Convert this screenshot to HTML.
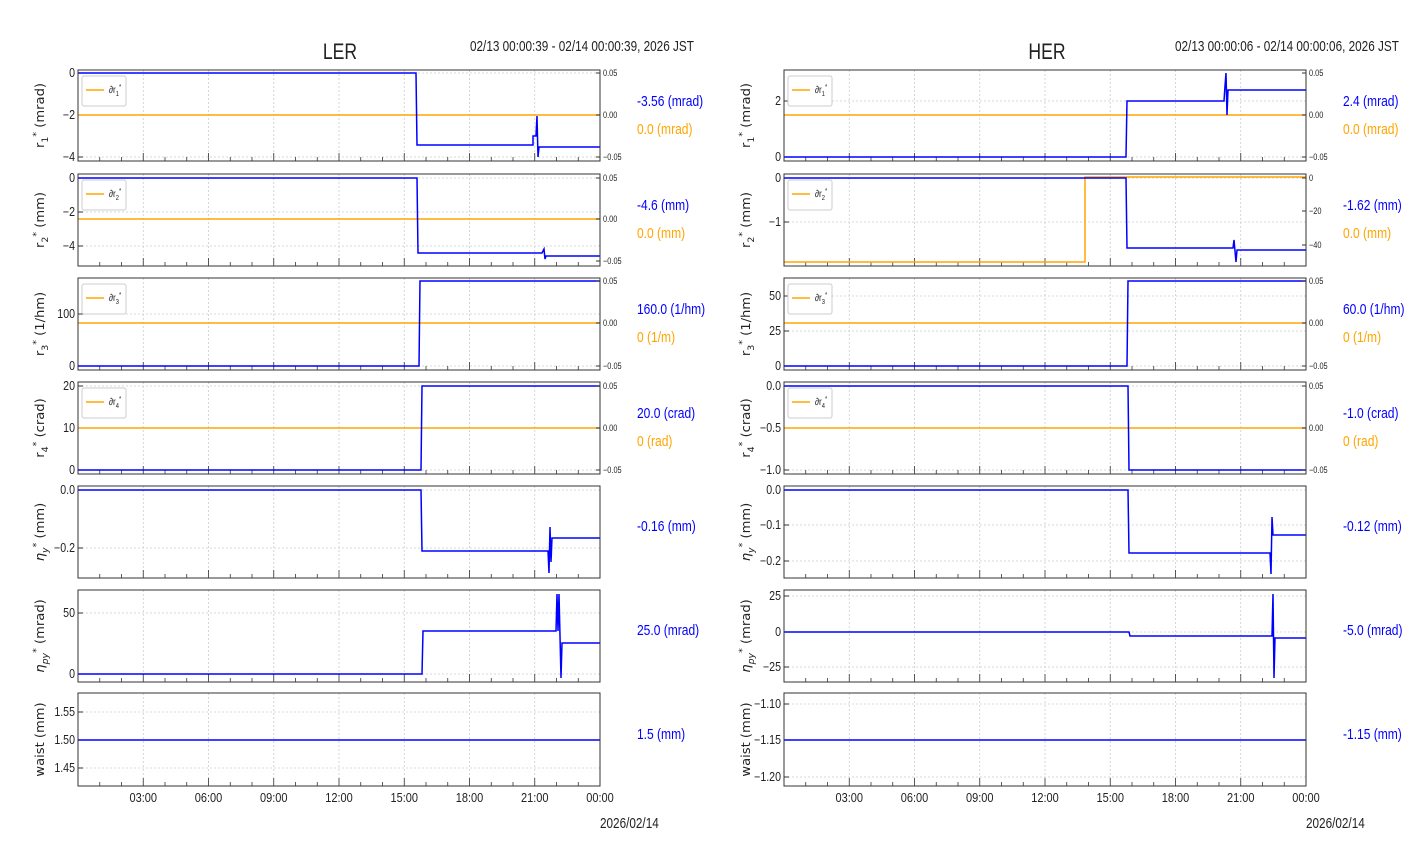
<!DOCTYPE html>
<html><head><meta charset="utf-8"><style>
html,body{margin:0;padding:0;background:#fff;}
svg{display:block;font-family:"Liberation Sans Narrow","Liberation Sans",sans-serif;}
</style></head><body>
<svg id="s" width="1412" height="864" xmlns="http://www.w3.org/2000/svg"></svg>
<script>
const S=document.getElementById('s');let out='';
function T(x,y,t,o){o=o||{};const sx=o.sx||0.88;
  const tr=o.tr?o.tr:`translate(${x},${y}) scale(${sx},1)`;
  out+=`<text x="0" y="0" font-size="${o.fs||11}" fill="${o.c||'#222'}" text-anchor="${o.a||'start'}" transform="${tr}" ${o.ff?`font-family="${o.ff}"`:''}>${t}</text>`;}
function L(pts,c,w){out+=`<polyline points="${pts.map(p=>p.join(',')).join(' ')}" fill="none" stroke="${c}" stroke-width="${w||1.5}"/>`;}
function panel(x0,y0,y1,yt,yl,blue,orange,rt,leg,first,last){
  const x1=x0+522;
  for(let h=3;h<24;h+=3){const x=x0+h*21.75;out+=`<line x1="${x}" y1="${y0}" x2="${x}" y2="${y1}" stroke="#ccc" stroke-width="0.8" stroke-dasharray="2,2"/>`;}
  yt.forEach(t=>{out+=`<line x1="${x0}" y1="${t[0]}" x2="${x1}" y2="${t[0]}" stroke="#ccc" stroke-width="0.8" stroke-dasharray="2,2"/>`;
    out+=`<line x1="${x0}" y1="${t[0]}" x2="${x0+5}" y2="${t[0]}" stroke="#333"/>`;
    T(x0-3,t[0]+4,t[1],{a:'end',fs:12.5,sx:0.85});});
  for(let h=1;h<24;h++){const x=x0+h*21.75;const l=h%3==0?8:4;out+=`<line x1="${x}" y1="${y1}" x2="${x}" y2="${y1-l}" stroke="#333" stroke-width="0.8"/>`;}
  if(orange)L(orange,'#ffa500',1.5);
  L(blue,'#0000ff',1.5);
  if(rt)rt.forEach(t=>{out+=`<line x1="${x1}" y1="${t[0]}" x2="${x1-4}" y2="${t[0]}" stroke="#333"/>`;T(x1+3,t[0]+3,t[1],{fs:9,sx:0.82});});
  out+=`<rect x="${x0}" y="${y0}" width="522" height="${y1-y0}" fill="none" stroke="#333" stroke-width="1"/>`;
  const cy=(y0+y1)/2;
  T(0,0,yl,{fs:12.5,a:'middle',ff:'DejaVu Sans',tr:`translate(${x0-34},${cy}) rotate(-90) scale(1.05,1)`});
  if(leg){out+=`<rect x="${x0+4}" y="${y0+6}" width="44" height="30" rx="2" fill="#fff" stroke="#ccc"/><line x1="${x0+8}" y1="${y0+20}" x2="${x0+26}" y2="${y0+20}" stroke="#ffa500" stroke-width="1.5"/>`;T(x0+31,y0+23,leg,{fs:10,sx:0.82});}
  if(last){const labs=['03:00','06:00','09:00','12:00','15:00','18:00','21:00','00:00'];labs.forEach((l,i)=>T(x0+(i+1)*3*21.75,y1+16,l,{a:'middle',fs:12.5,sx:0.88}));}
}
function side(x,y,b,o){T(x,y,b,{c:'#0000ff',fs:14.5,sx:0.83});if(o)T(x,y+28,o,{c:'#ffa500',fs:14.5,sx:0.83});}
const lg=(n)=>`∂r<tspan font-size="7" dy="3">${n}</tspan><tspan font-size="7" dy="-7">*</tspan>`;
const ylab=(n,u)=>`r<tspan font-size="9" dy="4">${n}</tspan><tspan font-size="9" dy="-9">*</tspan><tspan dy="5"> (${u})</tspan>`;
const elab=(s,u)=>`<tspan font-style="italic">η</tspan><tspan font-size="9" dy="4" font-style="italic">${s}</tspan><tspan font-size="9" dy="-9">*</tspan><tspan dy="5"> (${u})</tspan>`;
const rtA=(a,b,c)=>[[a,'0.05'],[b,'0.00'],[c,'\u22120.05']];
let X=78,E=600;
T(340,59,'LER',{a:'middle',fs:22,sx:0.8});T(470,51,'02/13 00:00:39 - 02/14 00:00:39, 2026 JST',{fs:14.5,sx:0.81});
panel(X,70,161,[[73,'0'],[115,'\u22122'],[157,'\u22124']],ylab(1,'mrad'),[[X,73],[416,73],[417,145],[533,145],[533,136],[536,136],[537,116],[538,157],[539,147],[E,147]],[[X,115],[E,115]],rtA(73,115,157),lg(1));
side(637,106,'-3.56 (mrad)','0.0 (mrad)');
panel(X,174,266,[[178,'0'],[212,'\u22122'],[246,'\u22124']],ylab(2,'mm'),[[X,178],[417,178],[418,253],[542,253],[544,249],[545,259],[546,256],[E,256]],[[X,219],[E,219]],rtA(178,219,261),lg(2));
side(637,210,'-4.6 (mm)','0.0 (mm)');
panel(X,278,370,[[314,'100'],[366,'0']],ylab(3,'1/hm'),[[X,366],[419,366],[420,281],[E,281]],[[X,323],[E,323]],rtA(281,323,366),lg(3));
side(637,314,'160.0 (1/hm)','0 (1/m)');
panel(X,382,474,[[386,'20'],[428,'10'],[470,'0']],ylab(4,'crad'),[[X,470],[421,470],[422,386],[E,386]],[[X,428],[E,428]],rtA(386,428,470),lg(4));
side(637,418,'20.0 (crad)','0 (rad)');
panel(X,486,578,[[490,'0.0'],[548,'\u22120.2']],elab('y','mm'),[[X,490],[421,490],[422,551],[548,551],[549,573],[550,527],[551,562],[552,538],[E,538]],null,null,null);
side(637,531,'-0.16 (mm)');
panel(X,590,682,[[613,'50'],[674,'0']],elab('py','mrad'),[[X,674],[422,674],[423,631],[556,631],[557,594],[558,631],[559,594],[561,678],[562,643],[E,643]],null,null,null);
side(637,635,'25.0 (mrad)');
panel(X,693,786,[[712,'1.55'],[740,'1.50'],[768,'1.45']],'waist (mm)',[[X,740],[E,740]],null,null,null,0,1);
side(637,739,'1.5 (mm)');
T(600,828,'2026/02/14',{fs:14.5,sx:0.81});
X=784;E=1306;
T(1047,59,'HER',{a:'middle',fs:22,sx:0.8});T(1175,51,'02/13 00:00:06 - 02/14 00:00:06, 2026 JST',{fs:14.5,sx:0.81});
panel(X,70,161,[[101,'2'],[157,'0']],ylab(1,'mrad'),[[X,157],[1126,157],[1127,101],[1224,101],[1225,86],[1226,73],[1227,115],[1228,90],[E,90]],[[X,115],[E,115]],rtA(73,115,157),lg(1));
side(1343,106,'2.4 (mrad)','0.0 (mrad)');
panel(X,174,266,[[178,'0'],[222,'\u22121']],ylab(2,'mm'),[[X,178],[1126,178],[1127,248],[1233,248],[1234,240],[1236,262],[1237,250],[E,250]],[[X,262],[1085,262],[1085,177],[E,177]],[[178,'0'],[211,'\u221220'],[245,'\u221240']],lg(2));
side(1343,210,'-1.62 (mm)','0.0 (mm)');
panel(X,278,370,[[296,'50'],[331,'25'],[366,'0']],ylab(3,'1/hm'),[[X,366],[1127,366],[1128,281],[E,281]],[[X,323],[E,323]],rtA(281,323,366),lg(3));
side(1343,314,'60.0 (1/hm)','0 (1/m)');
panel(X,382,474,[[386,'0.0'],[428,'\u22120.5'],[470,'\u22121.0']],ylab(4,'crad'),[[X,386],[1128,386],[1129,470],[E,470]],[[X,428],[E,428]],rtA(386,428,470),lg(4));
side(1343,418,'-1.0 (crad)','0 (rad)');
panel(X,486,578,[[490,'0.0'],[525,'\u22120.1'],[561,'\u22120.2']],elab('y','mm'),[[X,490],[1128,490],[1129,553],[1270,553],[1271,574],[1272,517],[1273,535],[E,535]],null,null,null);
side(1343,531,'-0.12 (mm)');
panel(X,590,682,[[596,'25'],[632,'0'],[667,'\u221225']],elab('py','mrad'),[[X,632],[1129,632],[1130,636],[1272,636],[1273,594],[1274,678],[1275,638],[E,638]],null,null,null);
side(1343,635,'-5.0 (mrad)');
panel(X,693,786,[[704,'\u22121.10'],[740,'\u22121.15'],[777,'\u22121.20']],'waist (mm)',[[X,740],[E,740]],null,null,null,0,1);
side(1343,739,'-1.15 (mm)');
T(1306,828,'2026/02/14',{fs:14.5,sx:0.81});
S.innerHTML=out;
</script>
</body></html>
